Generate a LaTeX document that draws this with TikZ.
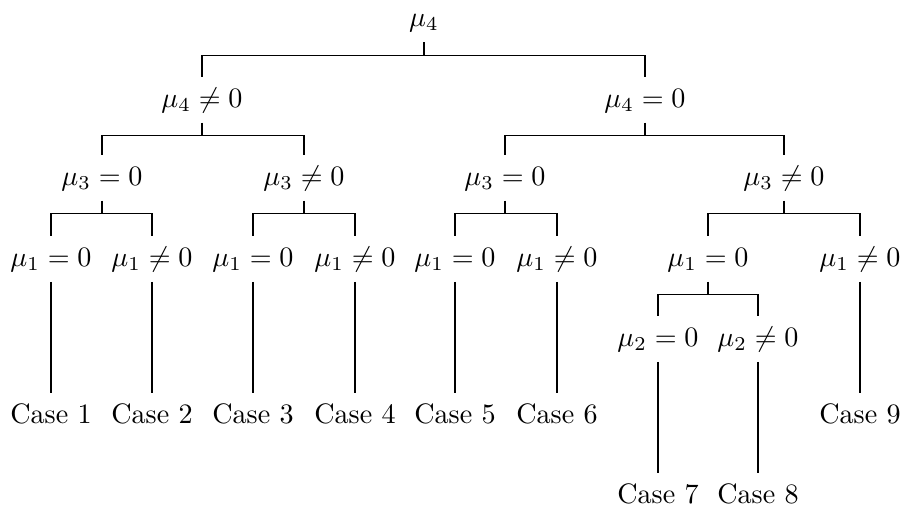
\documentclass[tikz,border=0pt]{standalone}
\usepackage{tikz}
\tikzstyle{cond} = [text height=7pt, text depth=2pt, inner sep=3.4pt]
\tikzstyle{branch} = [line width=0.4pt]

\begin{document}
\begin{tikzpicture}[x=0.0125cm, y=-0.0125cm]
    \useasboundingbox (0,0) rectangle (901,507);

    % Conditions
    \node[cond] (root) at (424,19.5) {$\mu_4$};
    \node[cond] (m4n) at (202,100) {$\mu_4 \neq 0$};
    \node[cond] (m4z) at (645,100) {$\mu_4 = 0$};
    \node[cond] (m4n-m3z) at (102,178) {$\mu_3 = 0$};
    \node[cond] (m4n-m3n) at (304,178) {$\mu_3 \neq 0$};
    \node[cond] (m4z-m3z) at (505,178) {$\mu_3 = 0$};
    \node[cond] (m4z-m3n) at (784,178) {$\mu_3 \neq 0$};
    \node[cond] (c1-m1z) at (51,259) {$\mu_1 = 0$};
    \node[cond] (c2-m1n) at (152,259) {$\mu_1 \neq 0$};
    \node[cond] (c3-m1z) at (253,259) {$\mu_1 = 0$};
    \node[cond] (c4-m1n) at (355,259) {$\mu_1 \neq 0$};
    \node[cond] (c5-m1z) at (455,259) {$\mu_1 = 0$};
    \node[cond] (c6-m1n) at (557,259) {$\mu_1 \neq 0$};
    \node[cond] (c78-m1z) at (708,259) {$\mu_1 = 0$};
    \node[cond] (c9-m1n) at (860,259) {$\mu_1 \neq 0$};
    \node[cond] (c7-m2z) at (658,339) {$\mu_2 = 0$};
    \node[cond] (c8-m2n) at (758,339) {$\mu_2 \neq 0$};

    % Cases
    \node[cond] (case1) at (51,416) {Case 1};
    \node[cond] (case2) at (152,416) {Case 2};
    \node[cond] (case3) at (253,416) {Case 3};
    \node[cond] (case4) at (355,416) {Case 4};
    \node[cond] (case5) at (455,416) {Case 5};
    \node[cond] (case6) at (557,416) {Case 6};
    \node[cond] (case7) at (658,496) {Case 7};
    \node[cond] (case8) at (758,496) {Case 8};
    \node[cond] (case9) at (860,416) {Case 9};

    % Branches
    \draw[branch] (root.south) -- ++(0,13) -| (m4n.north);
    \draw[branch] (root.south) -- ++(0,13) -| (m4z.north);
    \draw[branch] (m4n.south) -- ++(0,13) -| (m4n-m3z.north);
    \draw[branch] (m4n.south) -- ++(0,13) -| (m4n-m3n.north);
    \draw[branch] (m4z.south) -- ++(0,13) -| (m4z-m3z.north);
    \draw[branch] (m4z.south) -- ++(0,13) -| (m4z-m3n.north);
    \draw[branch] (m4n-m3z.south) -- ++(0,13) -| (c1-m1z.north);
    \draw[branch] (m4n-m3z.south) -- ++(0,13) -| (c2-m1n.north);
    \draw[branch] (m4n-m3n.south) -- ++(0,13) -| (c3-m1z.north);
    \draw[branch] (m4n-m3n.south) -- ++(0,13) -| (c4-m1n.north);
    \draw[branch] (m4z-m3z.south) -- ++(0,13) -| (c5-m1z.north);
    \draw[branch] (m4z-m3z.south) -- ++(0,13) -| (c6-m1n.north);
    \draw[branch] (m4z-m3n.south) -- ++(0,13) -| (c78-m1z.north);
    \draw[branch] (m4z-m3n.south) -- ++(0,13) -| (c9-m1n.north);
    \draw[branch] (c78-m1z.south) -- ++(0,13) -| (c7-m2z.north);
    \draw[branch] (c78-m1z.south) -- ++(0,13) -| (c8-m2n.north);

    % Leaves
    \draw[branch] (c1-m1z) -- (case1);
    \draw[branch] (c2-m1n) -- (case2);
    \draw[branch] (c3-m1z) -- (case3);
    \draw[branch] (c4-m1n) -- (case4);
    \draw[branch] (c5-m1z) -- (case5);
    \draw[branch] (c6-m1n) -- (case6);
    \draw[branch] (c7-m2z) -- (case7);
    \draw[branch] (c8-m2n) -- (case8);
    \draw[branch] (c9-m1n) -- (case9);

\end{tikzpicture}
\end{document}
